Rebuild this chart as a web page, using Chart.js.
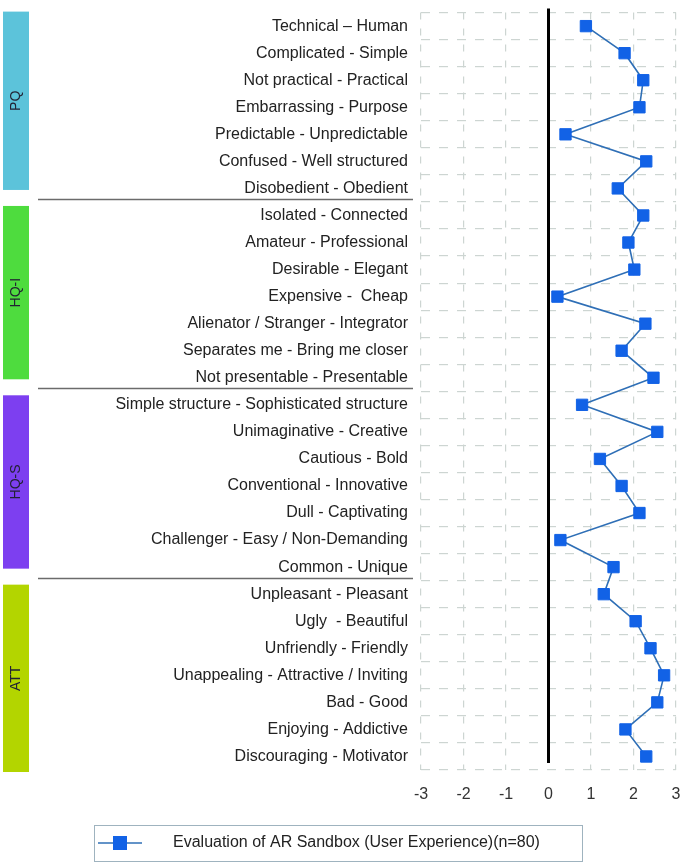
<!DOCTYPE html>
<html>
<head>
<meta charset="utf-8">
<script src="https://cdn.jsdelivr.net/npm/chart.js@4/dist/chart.umd.min.js"></script>
<style>
  html, body { margin: 0; padding: 0; background: #ffffff; }
  #wrap { width: 685px; height: 865px; position: relative; }
</style>
</head>
<body>
<div id="wrap"><canvas id="c" width="685" height="865"></canvas></div>
<script>
// ---- data ----
const itemLabels = [
  'Technical \u2013 Human',
  'Complicated - Simple',
  'Not practical - Practical',
  'Embarrassing - Purpose',
  'Predictable - Unpredictable',
  'Confused - Well structured',
  'Disobedient - Obedient',
  'Isolated - Connected',
  'Amateur - Professional',
  'Desirable - Elegant',
  'Expensive -  Cheap',
  'Alienator / Stranger - Integrator',
  'Separates me - Bring me closer',
  'Not presentable - Presentable',
  'Simple structure - Sophisticated structure',
  'Unimaginative - Creative',
  'Cautious - Bold',
  'Conventional - Innovative',
  'Dull - Captivating',
  'Challenger - Easy / Non-Demanding',
  'Common - Unique',
  'Unpleasant - Pleasant',
  'Ugly  - Beautiful',
  'Unfriendly - Friendly',
  'Unappealing - Attractive / Inviting',
  'Bad - Good',
  'Enjoying - Addictive',
  'Discouraging - Motivator'
];
const scores = [
  0.88, 1.79, 2.23, 2.14, 0.40, 2.30, 1.63,
  2.23, 1.88, 2.02, 0.21, 2.28, 1.72, 2.47,
  0.79, 2.56, 1.21, 1.72, 2.14, 0.28, 1.53,
  1.30, 2.05, 2.40, 2.72, 2.56, 1.81, 2.30
];
const groupNames = ['PQ', 'HQ-I', 'HQ-S', 'ATT'];
const groupSizes = [7, 7, 7, 7];
const xTicks = [-3, -2, -1, 0, 1, 2, 3];
const seriesName = 'Evaluation of AR Sandbox (User Experience)(n=80)';

// ---- styles ----
const groupColors = ['#5cc3da', '#4edc3e', '#7d3ff0', '#b3d500'];
const markerBlue = '#1262e6';
const lineBlue = '#2f6fb6';
const gridGray = '#cdd5d2';
const FONT = "'Liberation Sans', Arial, sans-serif";

const decorPlugin = {
  id: 'decor',
  beforeDatasetsDraw(chart) {
    const ctx = chart.ctx;
    const xs = chart.scales.x;
    const area = chart.chartArea;
    const x0 = xs.getPixelForValue(0);
    ctx.save();
    ctx.strokeStyle = '#000';
    ctx.lineWidth = 3;
    ctx.beginPath();
    ctx.moveTo(x0, area.top - 4);
    ctx.lineTo(x0, area.bottom - 7);
    ctx.stroke();
    ctx.restore();
  },
  afterDraw(chart) {
    const ctx = chart.ctx;
    const ys = chart.scales.y;
    const half = (ys.getPixelForValue(1) - ys.getPixelForValue(0)) / 2;
    ctx.save();
    let start = 0;
    groupNames.forEach((name, g) => {
      const end = start + groupSizes[g] - 1;
      const top = ys.getPixelForValue(start) - half;
      const bot = ys.getPixelForValue(end) + half;
      const bTop = g === 0 ? top - 1 : top + 4;
      const bBot = g === groupNames.length - 1 ? bot + 2 : bot - 12;
      ctx.fillStyle = groupColors[g];
      ctx.fillRect(3, bTop, 26, bBot - bTop);
      ctx.save();
      ctx.translate(16, (bTop + bBot) / 2);
      ctx.rotate(-Math.PI / 2);
      ctx.fillStyle = '#222233';
      ctx.font = '14px ' + FONT;
      ctx.textAlign = 'center';
      ctx.textBaseline = 'middle';
      ctx.fillText(name, 0, 0);
      ctx.restore();
      if (g < groupNames.length - 1) {
        ctx.strokeStyle = '#6b6b6b';
        ctx.lineWidth = 1.3;
        ctx.beginPath();
        ctx.moveTo(38, Math.round(bot) - 2.5);
        ctx.lineTo(413, Math.round(bot) - 2.5);
        ctx.stroke();
      }
      start = end + 1;
    });
    // legend marker and frame
    const lg = chart.legend;
    if (lg && lg.legendHitBoxes && lg.legendHitBoxes.length) {
      const hb = lg.legendHitBoxes[0];
      const cy = hb.top + hb.height / 2;
      ctx.strokeStyle = lineBlue;
      ctx.lineWidth = 1.5;
      ctx.beginPath();
      ctx.moveTo(hb.left, cy);
      ctx.lineTo(hb.left + 44, cy);
      ctx.stroke();
      ctx.fillStyle = markerBlue;
      ctx.fillRect(hb.left + 22 - 7, cy - 7, 14, 14);
      ctx.strokeStyle = '#9fb3bf';
      ctx.lineWidth = 1;
      ctx.strokeRect(Math.round(hb.left - 4) + 0.5, Math.round(cy - 18) + 0.5, 488, 36);
    }
    ctx.restore();
  }
};

new Chart(document.getElementById('c'), {
  type: 'line',
  data: {
    labels: itemLabels,
    datasets: [{
      label: seriesName,
      data: scores,
      borderColor: lineBlue,
      borderWidth: 1.6,
      pointStyle: 'rect',
      pointRadius: 8,
      pointHoverRadius: 8,
      pointBackgroundColor: markerBlue,
      pointBorderColor: markerBlue,
      pointBorderWidth: 1,
      tension: 0,
      fill: false
    }]
  },
  options: {
    indexAxis: 'y',
    responsive: false,
    animation: false,
    devicePixelRatio: 1,
    layout: { padding: { left: 90, right: -3, top: 11, bottom: 4 } },
    scales: {
      x: {
        type: 'linear',
        min: -3,
        max: 3,
        afterBuildTicks: (s) => { s.ticks = xTicks.map(v => ({ value: v })); },
        afterFit: (s) => { s.height = 57; s.paddingLeft = 0; s.paddingRight = 0; },
        ticks: {
          stepSize: 1,
          padding: 0,
          color: '#333',
          font: { family: FONT, size: 16 }
        },
        grid: {
          drawTicks: true,
          tickLength: 15,
          tickColor: 'rgba(0,0,0,0)',
          color: (c) => (c.tick && c.tick.value === 0) ? 'rgba(0,0,0,0)' : gridGray,
          lineWidth: 1.2
        },
        border: { display: false, dash: [7, 9] }
      },
      y: {
        type: 'category',
        offset: true,
        afterFit: (s) => { s.width = 331; },
        ticks: {
          autoSkip: false,
          padding: 3,
          color: '#222',
          font: { family: FONT, size: 16 }
        },
        grid: {
          offset: true,
          drawTicks: true,
          tickLength: 10,
          tickColor: 'rgba(0,0,0,0)',
          color: gridGray,
          lineWidth: 1.2
        },
        border: { display: false, dash: [9, 9] }
      }
    },
    plugins: {
      legend: {
        display: true,
        position: 'bottom',
        align: 'start',
        labels: {
          usePointStyle: true,
          pointStyleWidth: 67,
          padding: 8,
          color: '#222',
          font: { family: FONT, size: 16 },
          generateLabels: (chart) => [{
            text: seriesName,
            pointStyle: 'line',
            strokeStyle: 'rgba(0,0,0,0)',
            fillStyle: 'rgba(0,0,0,0)',
            lineWidth: 0,
            hidden: false,
            datasetIndex: 0,
            fontColor: '#222'
          }]
        }
      },
      tooltip: { enabled: false }
    }
  },
  plugins: [decorPlugin]
});
</script>
</body>
</html>
